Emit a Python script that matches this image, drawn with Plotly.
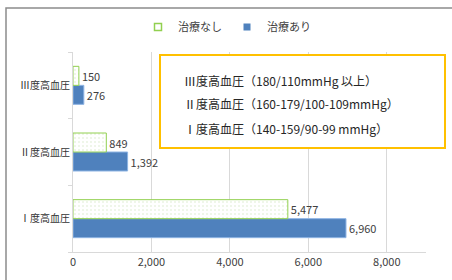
import plotly.graph_objects as go

categories = ["Ⅰ度高血圧", "Ⅱ度高血圧", "Ⅲ度高血圧"]
no_treatment = [5477, 849, 150]
treatment = [6960, 1392, 276]
series_names = ["治療なし", "治療あり"]
x_ticks = [0, 2000, 4000, 6000, 8000]
note_lines = [
    "Ⅲ度高血圧（180/110mmHg 以上）",
    "Ⅱ度高血圧（160-179/100-109mmHg）",
    "Ⅰ度高血圧（140-159/90-99 mmHg）",
]

FONT = "Noto Sans CJK JP"
W, H = 452, 280
L, R, T, B = 73, 26, 52, 28
pw, ph = W - L - R, H - T - B

def px(x):
    return (x - L) / pw

def py(y):
    return (H - B - y) / ph

fig = go.Figure()
fig.add_trace(go.Bar(
    y=categories, x=treatment, orientation="h", name=series_names[1],
    marker=dict(color="#4F81BD", line=dict(color="#8EB4E3", width=1)),
    text=treatment, texttemplate="%{x:,}", textposition="outside",
    textfont=dict(size=11, color="#404040", family=FONT),
    showlegend=False, cliponaxis=False,
))
fig.add_trace(go.Bar(
    y=categories, x=no_treatment, orientation="h", name=series_names[0],
    marker=dict(color="white", line=dict(color="#92D050", width=1),
                pattern=dict(shape=".", fgcolor="#D5E8C4", bgcolor="white", size=4, solidity=0.2)),
    text=no_treatment, texttemplate="%{x:,}", textposition="outside",
    textfont=dict(size=11, color="#404040", family=FONT),
    showlegend=False, cliponaxis=False,
))
# legend entries (small square swatches like the reference)
fig.add_trace(go.Scatter(x=[None], y=[None], mode="markers", name=series_names[0],
                         marker=dict(symbol="square", size=7, color="white",
                                     line=dict(color="#92D050", width=1.5)),
                         legendrank=1))
fig.add_trace(go.Scatter(x=[None], y=[None], mode="markers", name=series_names[1],
                         marker=dict(symbol="square", size=7, color="#4F81BD",
                                     line=dict(color="#4F81BD", width=0)),
                         legendrank=2))

fig.update_layout(
    width=W, height=H,
    margin=dict(l=L, r=R, t=T, b=B, autoexpand=False),
    paper_bgcolor="white", plot_bgcolor="white",
    barmode="group", bargap=0.43, bargroupgap=0,
    font=dict(family=FONT, color="#404040"),
    hovermode=False,
    showlegend=True,
    legend=dict(orientation="h", x=px(227), xanchor="center", y=py(27), yanchor="middle",
                font=dict(size=11, color="#404040", family=FONT),
                itemwidth=30, bgcolor="rgba(0,0,0,0)", tracegroupgap=0),
    xaxis=dict(range=[0, 9000], tickvals=x_ticks, tickformat=",", showgrid=True,
               gridcolor="#D9D9D9", gridwidth=1, zeroline=False, showline=True,
               linecolor="#D9D9D9", tickfont=dict(size=11, color="#404040", family=FONT),
               ticks="", automargin=False, fixedrange=True),
    yaxis=dict(categoryorder="array", categoryarray=categories, showline=True,
               linecolor="#D9D9D9", ticks="outside", tickson="boundaries",
               ticklen=4, tickcolor="#D9D9D9", showgrid=False, automargin=False,
               fixedrange=True,
               tickfont=dict(size=10, color="#333333", family=FONT)),
)

# outer frame
fig.add_shape(type="rect", xref="paper", yref="paper",
              x0=px(6), x1=px(470), y0=py(300), y1=py(8),
              line=dict(color="#8C8C8C", width=1.5), fillcolor="rgba(0,0,0,0)", layer="below")
# note box
fig.add_shape(type="rect", xref="paper", yref="paper",
              x0=px(160), x1=px(445), y0=py(148), y1=py(55),
              line=dict(color="#FFC000", width=2), fillcolor="white", layer="above")
for line, yy in zip(note_lines, [80, 103, 128]):
    fig.add_annotation(text=line, xref="paper", yref="paper", x=px(182), y=py(yy),
                       xanchor="left", yanchor="middle", showarrow=False,
                       font=dict(size=12, color="#262626", family=FONT))

fig.write_html("out.html", config={"displayModeBar": False, "staticPlot": True},
               post_script="document.body.style.margin='0';")
